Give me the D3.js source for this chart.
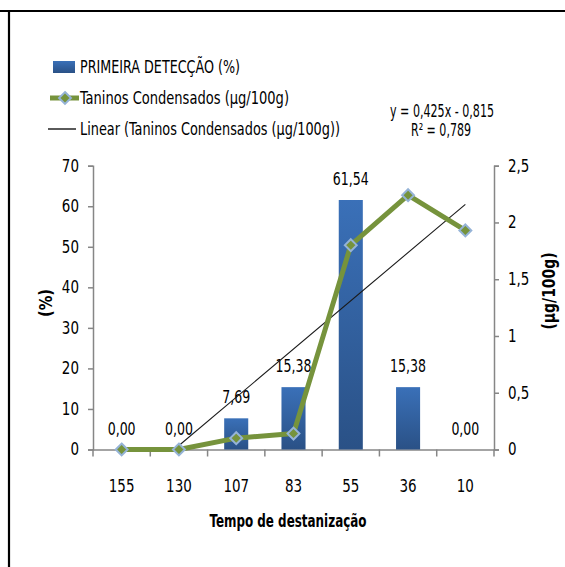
<!DOCTYPE html>
<html><head><meta charset="utf-8">
<script src="https://cdn.jsdelivr.net/npm/d3@7"></script>
<style>
html,body{margin:0;padding:0;background:#fff;}
svg text{font-family:'Liberation Sans Narrow','Arial Narrow','DejaVu Sans Condensed',sans-serif;fill:#000;}
</style></head>
<body><svg id="c" width="565" height="567"></svg>
<script>
const categories = ["155","130","107","83","55","36","10"];
const deteccao = [0,0,7.69,15.38,61.54,15.38,0];
const taninos = [0,0,0.10,0.14,1.80,2.24,1.93];
const leftTicks = [0,10,20,30,40,50,60,70];
const rightTicks = [0,0.5,1,1.5,2,2.5];
const trendCoef = [0.425,-0.815];
const r2 = 0.789;
const seriesNames = ["PRIMEIRA DETECÇÃO (%)","Taninos Condensados (µg/100g)","Linear (Taninos Condensados (µg/100g))"];

const loc = d3.formatLocale({decimal:",",thousands:".",grouping:[3],currency:["",""]});
const f2 = loc.format(".2f"), f3 = loc.format(".3f"), fg = loc.format("~g");

function squeeze(sel, k){
  sel.each(function(){
    const l = this.getComputedTextLength();
    d3.select(this).attr("textLength", l*k).attr("lengthAdjust","spacingAndGlyphs");
  });
}
function fit(sel, w){ sel.attr("textLength", w).attr("lengthAdjust","spacingAndGlyphs"); }

const svg = d3.select("#c");
const X0=93, X1=494, Y0=449.5, Y1=165.7;

svg.append("line").attr("x1",0).attr("x2",565).attr("y1",11).attr("y2",11).attr("stroke","#000").attr("stroke-width",2.2);
svg.append("line").attr("x1",9).attr("x2",9).attr("y1",10).attr("y2",567).attr("stroke","#000").attr("stroke-width",2.2);

const defs = svg.append("defs");
const g = defs.append("linearGradient").attr("id","bg").attr("x1",0).attr("x2",0).attr("y1",0).attr("y2",1);
g.append("stop").attr("offset","0%").attr("stop-color","#3a70b8");
g.append("stop").attr("offset","100%").attr("stop-color","#2a5186");

const x = d3.scaleBand().domain(categories).range([X0,X1]).paddingInner(0).paddingOuter(0);
const yL = d3.scaleLinear().domain([0,70]).range([Y0,Y1]);
const yR = d3.scaleLinear().domain([0,2.5]).range([Y0,Y1]);
const bw = x.bandwidth();
const barW = bw*0.42;
const cx = d => x(d)+bw/2;

const axisCol = "#868686";
const la = svg.append("g").attr("transform",`translate(${X0},0)`)
  .call(d3.axisLeft(yL).tickValues(leftTicks).tickFormat(d=>d).tickSize(5).tickPadding(9));
const ra = svg.append("g").attr("transform",`translate(${X1},0)`)
  .call(d3.axisRight(yR).tickValues(rightTicks).tickFormat(d=>fg(d)).tickSize(5).tickPadding(9));
const ba = svg.append("g").attr("transform",`translate(0,${Y0})`)
  .call(d3.axisBottom(x).tickSize(0).tickPadding(30));
[la,ra,ba].forEach(a=>{
  a.select(".domain").attr("stroke",axisCol).attr("stroke-width",1.5);
  a.selectAll(".tick line").attr("stroke",axisCol).attr("stroke-width",1.5);
  a.selectAll("text").style("font-size","17px").attr("fill","#000");
  squeeze(a.selectAll("text"), 0.88);
});
const bounds = categories.map(c=>x(c)).concat([X1]);
svg.append("g").selectAll("line").data(bounds).join("line")
  .attr("x1",d=>d).attr("x2",d=>d).attr("y1",Y0).attr("y2",Y0+7)
  .attr("stroke",axisCol).attr("stroke-width",1.5);

svg.append("g").selectAll("rect").data(deteccao).join("rect")
  .attr("x",(d,i)=>cx(categories[i])-barW/2).attr("width",barW)
  .attr("y",d=>yL(d)).attr("height",d=>Y0-yL(d)).attr("fill","url(#bg)");
const bl = svg.append("g").selectAll("text").data(deteccao).join("text")
  .attr("x",(d,i)=>cx(categories[i])).attr("y",d=>yL(d)-15)
  .attr("text-anchor","middle").style("font-size","17px").text(d=>f2(d));
squeeze(bl, 0.82);

const tx = d3.scaleLinear().domain([1,categories.length]).range([cx(categories[0]),cx(categories[categories.length-1])]);
const tStart = Math.max(1, -trendCoef[1]/trendCoef[0]);
const tEnd = categories.length;
svg.append("line")
  .attr("x1",tx(tStart)).attr("y1",yR(trendCoef[0]*tStart+trendCoef[1]))
  .attr("x2",tx(tEnd)).attr("y2",yR(trendCoef[0]*tEnd+trendCoef[1]))
  .attr("stroke","#1a1a1a").attr("stroke-width",1.1);

const lineGen = d3.line().x((d,i)=>cx(categories[i])).y(d=>yR(d));
svg.append("path").datum(taninos).attr("d",lineGen).attr("fill","none")
  .attr("stroke","#76933c").attr("stroke-width",5).attr("stroke-linejoin","round");
const diamond = d3.symbol().type(d3.symbolDiamond2).size(90);
svg.append("g").selectAll("path").data(taninos).join("path")
  .attr("transform",(d,i)=>`translate(${cx(categories[i])},${yR(d)})`)
  .attr("d",diamond).attr("fill","#76933c").attr("stroke","#95b3d7").attr("stroke-width",2);

svg.append("text").attr("transform","translate(46,303) rotate(-90)").attr("text-anchor","middle")
  .attr("dy","0.35em").style("font-size","18px").style("font-weight","bold").text("(%)").call(fit,28);
svg.append("text").attr("transform","translate(549,291) rotate(-90)").attr("text-anchor","middle")
  .attr("dy","0.35em").style("font-size","18px").style("font-weight","bold").text("(µg/100g)").call(fit,77);
svg.append("text").attr("x",288).attr("y",527).attr("text-anchor","middle")
  .style("font-size","18px").style("font-weight","bold").text("Tempo de destanização").call(fit,157);

const lg = svg.append("g");
lg.append("rect").attr("x",53).attr("y",61).attr("width",22).attr("height",12).attr("fill","url(#bg)");
lg.append("text").attr("x",80).attr("y",73).style("font-size","17px").text(seriesNames[0]).call(fit,160);
lg.append("line").attr("x1",50).attr("x2",79).attr("y1",98).attr("y2",98).attr("stroke","#76933c").attr("stroke-width",5);
lg.append("path").attr("transform","translate(65,98)").attr("d",diamond).attr("fill","#76933c").attr("stroke","#95b3d7").attr("stroke-width",2);
lg.append("text").attr("x",80).attr("y",104).style("font-size","17px").text(seriesNames[1]).call(fit,209);
lg.append("line").attr("x1",48).attr("x2",76).attr("y1",129).attr("y2",129).attr("stroke","#000").attr("stroke-width",1.3);
lg.append("text").attr("x",80).attr("y",135).style("font-size","17px").text(seriesNames[2]).call(fit,260);

svg.append("text").attr("x",442).attr("y",117).attr("text-anchor","middle").style("font-size","17px")
  .text(`y = ${f3(trendCoef[0])}x - ${f3(-trendCoef[1])}`).call(fit,104);
svg.append("text").attr("x",441).attr("y",136).attr("text-anchor","middle").style("font-size","17px")
  .text(`R² = ${f3(r2)}`).call(fit,60);
</script></body></html>
